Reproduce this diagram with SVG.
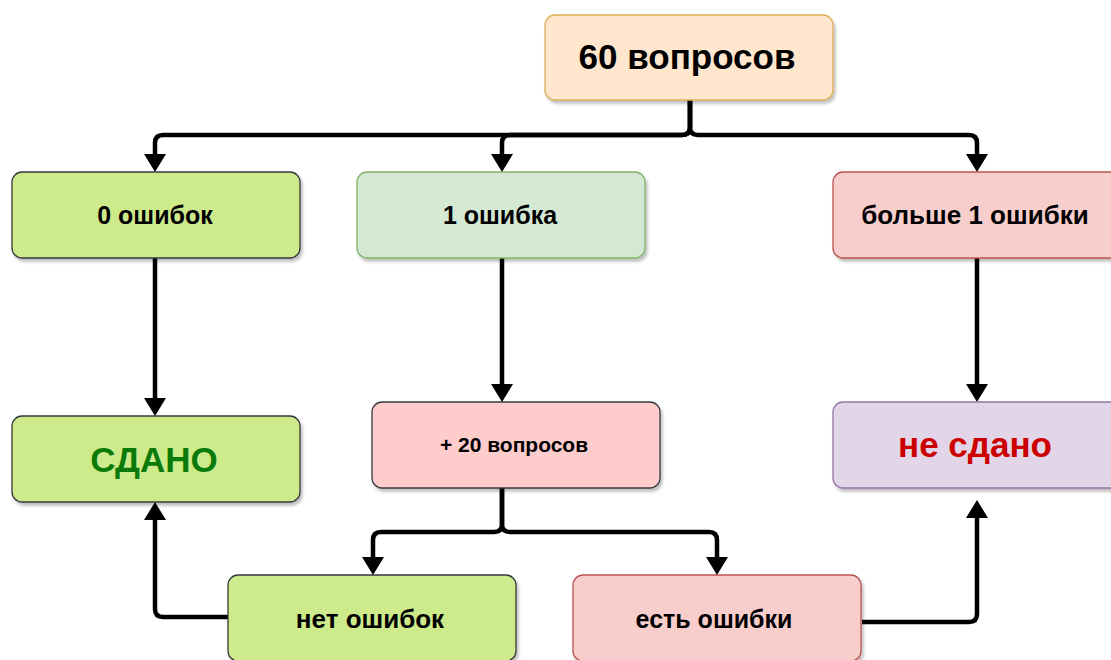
<svg xmlns="http://www.w3.org/2000/svg" width="1111" height="660" viewBox="0 0 1111 660">
<style>
.box{stroke-width:1.3;filter:url(#sh)}
.t{font-family:"Liberation Sans",Arial,sans-serif;font-weight:bold;text-anchor:middle;fill:#000}
.c{fill:none;stroke:#000;stroke-width:4.5;stroke-linejoin:round;marker-end:url(#ah)}
</style>
<defs>
<filter id="sh" x="-10%" y="-10%" width="130%" height="140%">
<feDropShadow dx="2" dy="3" stdDeviation="1.5" flood-color="#000" flood-opacity="0.25"/>
</filter>
<marker id="ah" markerUnits="userSpaceOnUse" viewBox="0 0 18 22" markerWidth="18" markerHeight="22" refX="8" refY="11" orient="auto">
<path d="M0,0 L18,11 L0,22 z" fill="#000"/>
</marker>
</defs>
<rect width="1111" height="660" fill="#fff"/>
<g id="connectors">
<path class="c" d="M690,100 V127 Q690,135 682,135 H163 Q155,135 155,143 V162"/>
<path class="c" d="M690,100 V127 Q690,135 682,135 H510 Q502,135 502,143 V162"/>
<path class="c" d="M690,100 V127 Q690,135 698,135 H969 Q977,135 977,143 V162"/>
<path class="c" d="M155,258 V406"/>
<path class="c" d="M502,258 V392"/>
<path class="c" d="M977,258 V392"/>
<path class="c" d="M502,488 V524 Q502,532 494,532 H381 Q373,532 373,540 V565"/>
<path class="c" d="M502,488 V524 Q502,532 510,532 H709 Q717,532 717,540 V565"/>
<path class="c" d="M228,617 H163 Q155,617 155,609 V512"/>
<path class="c" d="M862,622 H969 Q977,622 977,614 V510"/>
</g>
<g id="n60">
<rect class="box" x="545" y="15" width="288" height="85" rx="10" fill="#ffe6cc" stroke="#dcae5a"/>
<text class="t" x="687" y="69" font-size="35">60 вопросов</text>
</g>
<g id="n0">
<rect class="box" x="12" y="172" width="288" height="86" rx="10" fill="#cdeb8b" stroke="#36393d"/>
<text class="t" x="155" y="224" font-size="25">0 ошибок</text>
</g>
<g id="n1">
<rect class="box" x="357" y="172" width="288" height="86" rx="10" fill="#d5e8d4" stroke="#82b366"/>
<text class="t" x="500" y="224" font-size="25">1 ошибка</text>
</g>
<g id="nmore">
<rect class="box" x="833" y="172" width="288" height="86" rx="10" fill="#f8cecc" stroke="#b85450"/>
<text class="t" x="975" y="224" font-size="26">больше 1 ошибки</text>
</g>
<g id="sdano">
<rect class="box" x="12" y="416" width="288" height="86" rx="10" fill="#cdeb8b" stroke="#36393d"/>
<text class="t" x="154" y="472" font-size="35" style="fill:#0a7a0a">СДАНО</text>
</g>
<g id="plus20">
<rect class="box" x="372" y="402" width="288" height="86" rx="10" fill="#ffcccc" stroke="#36393d"/>
<text class="t" x="514" y="452" font-size="21">+ 20 вопросов</text>
</g>
<g id="nesdano">
<rect class="box" x="833" y="402" width="288" height="86" rx="10" fill="#e1d5e7" stroke="#9673a6"/>
<text class="t" x="975" y="457" font-size="35" style="fill:#cc0000">не сдано</text>
</g>
<g id="net">
<rect class="box" x="228" y="575" width="288" height="86" rx="10" fill="#cdeb8b" stroke="#36393d"/>
<text class="t" x="370" y="628" font-size="26">нет ошибок</text>
</g>
<g id="est">
<rect class="box" x="573" y="575" width="288" height="86" rx="10" fill="#f8cecc" stroke="#b85450"/>
<text class="t" x="714" y="628" font-size="25">есть ошибки</text>
</g>
</svg>
